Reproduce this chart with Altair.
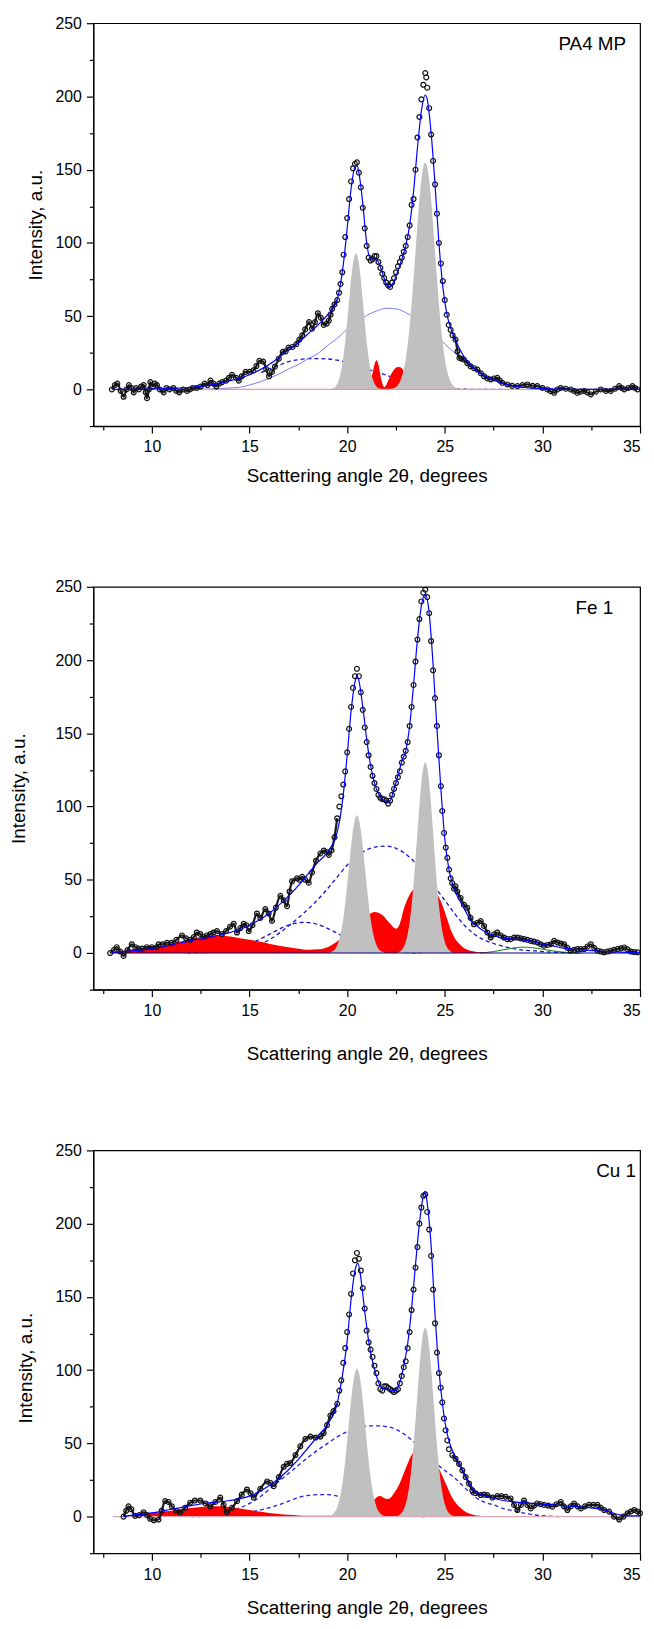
import altair as alt
import pandas as pd

FONT = "Liberation Sans"
W, H = 551, 406

# ---------------- Panel 1 : PA4 MP ----------------
p1_measured = [(7.95,0),(8.1,3),(8.23,4),(8.4,-1),(8.55,-5),(8.7,0),(8.82,3),(8.95,1),(9.07,-2),(9.2,1),(9.33,0),(9.45,2),(9.58,3),(9.68,-2),(9.75,-6),(9.85,0),(9.92,5),(10.05,2),(10.15,4),(10.26,3),(10.4,0),(10.6,-2),(10.75,1),(10.9,0),(11.1,1),(11.25,-1),(11.4,-2),(11.6,0),(11.8,-1),(11.95,0),(12.1,1),(12.3,1),(12.5,2),(12.7,4),(12.85,3),(13.0,6),(13.15,4),(13.3,2),(13.45,4),(13.6,5),(13.8,6),(13.95,8),(14.1,10),(14.3,8),(14.45,6),(14.6,9),(14.8,12),(15.0,12),(15.2,13),(15.35,16),(15.5,19.5),(15.7,19),(15.85,14),(16.0,9),(16.15,12),(16.3,15.5),(16.5,21),(16.7,25.7),(16.85,26),(17.0,28.6),(17.2,29),(17.4,31),(17.55,34),(17.7,37),(17.85,41),(18.05,46),(18.2,41.6),(18.35,46),(18.5,52),(18.65,49),(18.8,44),(18.95,45),(19.06,47),(19.15,51),(19.23,55),(19.35,58),(19.49,61),(19.58,66),(19.66,72),(19.75,80),(19.82,92),(19.9,104),(20.0,117),(20.1,130),(20.2,142),(20.3,151),(20.4,154),(20.5,155),(20.6,148),(20.7,138),(20.8,124),(20.9,110),(21.0,98),(21.1,90),(21.2,88),(21.3,89),(21.4,91),(21.5,91),(21.6,87),(21.7,83),(21.8,79),(21.9,76),(22.0,73),(22.1,71),(22.2,70),(22.3,73),(22.4,76),(22.5,80),(22.6,84),(22.7,87),(22.8,90),(22.9,94),(23.0,98),(23.1,104),(23.2,112),(23.3,126),(23.4,130),(23.5,150),(23.6,172),(23.7,186),(23.8,198),(23.9,208),(24.0,216),(24.05,213),(24.1,206),(24.2,192),(24.3,174),(24.4,156),(24.5,140),(24.6,120),(24.7,100),(24.8,86),(24.9,74),(25.0,61),(25.1,51),(25.2,44),(25.3,40.7),(25.4,37),(25.55,34),(25.65,26),(25.75,21.5),(25.85,21),(25.98,20.4),(26.15,18),(26.32,15.8),(26.5,14.5),(26.67,13.6),(26.85,11),(27.01,9),(27.18,7.5),(27.35,6.8),(27.52,7.5),(27.69,7.9),(27.82,6),(27.95,4.5),(28.2,3.4),(28.45,2.5),(28.72,2.3),(28.98,3),(29.23,3.4),(29.5,2.5),(29.74,2.3),(30.0,1),(30.25,0),(30.42,-1.2),(30.6,-2.3),(30.77,0),(30.94,1),(31.2,0.5),(31.45,0),(31.62,-1),(31.79,-2.3),(31.96,-1.5),(32.14,-1),(32.3,-2),(32.48,-3.4),(32.74,-1.5),(32.99,0),(33.25,-1),(33.5,-1),(33.72,0.5),(33.93,2.3),(34.06,1),(34.19,0),(34.4,1),(34.61,2.3),(34.74,1),(34.87,0)]
p1_fit = [(8,0),(9,0),(10,0.3),(11,0.8),(12,1.5),(13,3),(14,6),(15,10),(16,17),(17,27),(17.5,32),(18,38),(18.5,44),(19,51),(19.5,62),(19.8,85),(20.0,110),(20.2,137),(20.4,152),(20.5,153),(20.6,148),(20.8,127),(21.0,100),(21.2,89),(21.4,89),(21.6,87),(21.8,80),(22.0,72),(22.2,70),(22.4,74),(22.6,81),(22.8,89),(23.0,98),(23.2,112),(23.4,135),(23.6,165),(23.8,190),(24.0,201),(24.1,198),(24.3,175),(24.5,140),(24.7,100),(24.9,70),(25.1,52),(25.3,42),(25.6,32),(26.0,22),(26.5,14.5),(27.0,9.5),(27.5,6.5),(28,4),(29,1.5),(30,0.5),(31,0.2),(32,0),(35,0)]
p1_gray_a = [(19.05,0.1),(19.15,0.3),(19.25,0.6),(19.35,1.4),(19.45,2.9),(19.55,5.6),(19.65,10.1),(19.75,17.1),(19.85,26.7),(19.95,39.1),(20.05,53.4),(20.15,68.1),(20.25,81),(20.35,89.8),(20.45,93),(20.55,89.8),(20.65,81),(20.75,68.1),(20.85,53.4),(20.95,39.1),(21.05,26.7),(21.15,17.1),(21.25,10.1),(21.35,5.6),(21.45,2.9),(21.55,1.4),(21.65,0.6),(21.75,0.3),(21.85,0.1)]
p1_gray_b = [(22.2,0.2),(22.4,0.9),(22.5,1.7),(22.6,3.1),(22.7,5.3),(22.8,8.7),(22.9,13.8),(23.0,21),(23.1,30.7),(23.2,43.1),(23.3,58.2),(23.4,75.5),(23.5,94),(23.6,112.5),(23.7,129.5),(23.8,143.1),(23.9,151.9),(24.0,155),(24.1,151.9),(24.2,143.1),(24.3,129.5),(24.4,112.5),(24.5,94),(24.6,75.5),(24.7,58.2),(24.8,43.1),(24.9,30.7),(25.0,21),(25.1,13.8),(25.2,8.7),(25.3,5.3),(25.4,3.1),(25.5,1.7),(25.6,0.9),(25.8,0.2)]
p1_red = [(20.9,0),(21.0,0.5),(21.1,2),(21.2,6),(21.3,11),(21.4,17),(21.5,20),(21.6,17),(21.7,10),(21.8,4),(21.9,1.5),(22.0,3),(22.1,6),(22.2,9),(22.3,11.5),(22.4,13.5),(22.5,14.8),(22.6,15.3),(22.7,15.2),(22.8,14.5),(22.86,13.5),(22.87,0)]
p1_thin = [(12.5,0),(13,0.3),(13.5,0.6),(14,1),(14.5,1.5),(15,3),(15.5,5),(16,7.5),(16.5,10.5),(17,14),(17.5,17),(18,21),(18.5,24.5),(19,30),(19.5,35),(20,41),(20.5,46),(21,50.5),(21.5,53.5),(22,55.4),(22.5,55),(23,52.5),(23.5,48.5),(24,43.5),(24.5,38),(25,31),(25.5,25),(26,19),(26.5,14),(27,10),(27.5,6.5),(28,4),(29,1.5),(30,0.5),(31,0)]
p1_dashed = [(15.6,11.5),(16,14),(16.5,16.5),(17,19),(17.5,20.3),(18,21),(18.5,21),(19,20.8),(19.5,20),(20,18.5),(20.5,16.5),(21,14),(21.5,12),(22,9.8),(22.5,7.5),(23,5.5),(23.5,3.5),(24,2.2),(24.5,1.3),(25,0.7),(26,0.2),(27,0),(28,0)]

# ---------------- Panel 2 : Fe 1 ----------------
p2_measured = [(7.86,0),(8.05,2),(8.2,4),(8.38,1),(8.55,-2),(8.75,2),(8.97,6),(9.15,4),(9.31,3),(9.5,3),(9.74,4),(10.0,4),(10.25,4),(10.34,6),(10.55,6),(10.77,7),(11.0,7),(11.25,9),(11.54,12),(11.75,10),(11.96,9),(12.15,11),(12.3,14),(12.48,13),(12.65,11),(12.82,12),(12.99,13),(13.15,14),(13.33,15),(13.59,13),(13.8,15),(14.0,18),(14.19,20),(14.36,14),(14.53,17),(14.7,20),(14.83,19),(14.96,15),(15.15,19),(15.38,27),(15.55,24),(15.81,30),(15.98,27),(16.15,22),(16.35,31),(16.58,39),(16.75,36),(16.92,32),(17.05,42),(17.18,49),(17.43,51),(17.56,50),(17.69,52),(17.86,50),(18.03,48),(18.2,55),(18.4,63),(18.63,68),(18.8,70),(18.93,69),(19.06,67),(19.2,70),(19.35,79),(19.49,92),(19.6,100),(19.7,107),(19.8,115),(19.9,124),(20.0,137),(20.1,153),(20.2,168),(20.3,181),(20.4,189),(20.5,194),(20.6,189),(20.7,178),(20.8,166),(20.9,154),(21.0,144),(21.1,135),(21.2,127),(21.3,121),(21.4,116),(21.5,112),(21.6,108),(21.7,106),(21.8,105),(21.9,105),(22.0,104),(22.1,102),(22.2,104),(22.3,108),(22.4,112),(22.5,116),(22.6,120),(22.7,124),(22.8,130),(22.9,134),(23.0,138),(23.1,144),(23.2,155),(23.3,168),(23.4,183),(23.5,199),(23.6,214),(23.7,228),(23.8,240),(23.9,246),(24.0,248),(24.1,243),(24.2,232),(24.3,213),(24.4,193),(24.5,174),(24.6,155),(24.7,135),(24.8,114),(24.87,97),(24.96,82),(25.05,72),(25.13,65),(25.22,57),(25.3,51),(25.38,47.7),(25.47,44),(25.55,45.5),(25.64,42),(25.81,37.6),(25.98,33),(26.15,30.9),(26.32,24),(26.49,19.6),(26.67,20.7),(26.84,21.8),(27.01,18.5),(27.18,14),(27.35,10.6),(27.52,12.8),(27.69,14),(27.86,12),(28.03,10.6),(28.2,9.5),(28.37,9.5),(28.55,10.5),(28.72,10.6),(28.89,10),(29.06,9.5),(29.23,9),(29.4,8.3),(29.57,7.8),(29.74,7.2),(29.91,6),(30.08,5),(30.26,5.5),(30.43,6),(30.6,8.3),(30.77,7.2),(30.94,6.5),(31.11,6),(31.28,3.5),(31.45,1.6),(31.62,2.2),(31.79,2.7),(31.96,2.7),(32.14,2.7),(32.31,4.5),(32.48,6),(32.65,3.5),(32.82,1.6),(32.99,1),(33.16,0.5),(33.33,1),(33.5,1.6),(33.67,2.2),(33.85,2.7),(34.02,3.2),(34.19,3.8),(34.36,2.5),(34.53,1),(34.7,0.7),(34.87,0.5)]
p2_fit = [(7.9,0.5),(9,1.5),(10,3),(11,5.5),(12,8.5),(13,11),(14,14),(15,19),(16,27),(17,39),(17.5,46),(18,54),(18.5,62),(19,69),(19.5,83),(19.8,108),(20.0,135),(20.2,165),(20.4,185),(20.5,189),(20.6,186),(20.8,168),(21.0,146),(21.2,128),(21.4,116),(21.6,109),(21.8,105),(22.0,103),(22.2,104),(22.4,112),(22.6,121),(22.8,131),(23.0,138),(23.2,155),(23.4,183),(23.6,214),(23.8,237),(24.0,245),(24.2,232),(24.4,197),(24.6,153),(24.8,112),(25.0,78),(25.2,58),(25.4,47),(25.6,40),(25.8,35),(26.0,30),(26.3,23),(26.6,19),(27.0,15),(27.5,12),(28,10),(28.5,9.5),(29,9),(29.5,8),(30,6),(30.5,5),(31,3.5),(32,2.2),(33,1.2),(34,0.6),(35,0.2)]
p2_gray_a = [(19.1,0.4),(19.2,0.8),(19.3,1.6),(19.4,3.0),(19.5,5.5),(19.6,9.5),(19.7,15.3),(19.8,23.4),(19.9,33.8),(20.0,46.2),(20.1,59.7),(20.2,72.9),(20.3,83.9),(20.4,91.4),(20.5,94),(20.6,91.4),(20.7,83.9),(20.8,72.9),(20.9,59.7),(21.0,46.2),(21.1,33.8),(21.2,23.4),(21.3,15.3),(21.4,9.5),(21.5,5.5),(21.6,3.0),(21.7,1.6),(21.8,0.8),(21.9,0.4)]
p2_gray_b = [(22.6,0.5),(22.7,1.1),(22.8,2.2),(22.9,4.2),(23.0,7.6),(23.1,13.1),(23.2,21.2),(23.3,32.4),(23.4,46.9),(23.5,64),(23.6,82.6),(23.7,100.7),(23.8,116.1),(23.9,126.4),(24.0,130),(24.1,126.4),(24.2,116.1),(24.3,100.7),(24.4,82.6),(24.5,64),(24.6,46.9),(24.7,32.4),(24.8,21.2),(24.9,13.1),(25.0,7.6),(25.1,4.2),(25.2,2.2),(25.3,1.1),(25.4,0.5)]
p2_red = [(7.9,0),(8.5,1.5),(9,2.5),(9.5,3.5),(10,4),(10.5,5),(11,6.5),(11.5,8),(12,9.5),(12.5,11),(13,11.8),(13.5,12),(14,11.2),(14.5,10),(15,9),(15.5,7.8),(16,6.3),(16.5,5),(17,4),(17.5,3),(18,2.2),(18.5,2.5),(19,4),(19.5,8),(20,13),(20.5,19),(21,25),(21.4,28),(21.8,26),(22.2,20),(22.5,16.5),(22.7,20),(22.9,30),(23.1,37),(23.3,42),(23.6,45),(24.0,46),(24.4,43),(24.7,38),(24.9,32),(25.1,24),(25.3,16),(25.5,10.5),(25.8,5.5),(26.1,2.5),(26.5,1),(27,0.3),(27.5,0)]
p2_dashed_a = [(11.8,0.1),(12.8,0.4),(13.3,0.9),(13.8,1.8),(14.3,3.2),(14.8,5.2),(15.3,8),(15.8,11.3),(16.3,14.8),(16.8,18),(17.3,20.2),(17.8,21),(18.3,20.2),(18.8,18),(19.3,14.8),(19.8,11.3),(20.3,8),(20.8,5.2),(21.3,3.2),(21.8,1.8),(22.3,0.9),(22.8,0.4),(23.8,0.1)]
p2_dashed_b = [(13,0.8),(14,1.5),(15,4),(16,9),(17,18.5),(17.5,24),(18,30),(18.5,36.5),(19,44),(19.5,52),(20,60),(20.5,66),(21,70.5),(21.5,72.5),(22,73),(22.5,71.5),(23,67.5),(23.5,61.5),(24,54),(24.5,45),(25,36),(25.5,27),(26,19),(26.5,13),(27,9),(27.5,6.5),(28,4.5),(28.5,3),(29,2),(29.5,1.5),(30,1),(31,0.3),(32,0)]
p2_green = [(26.8,0),(27.5,1),(28,2.2),(28.5,3.4),(29,4),(29.5,3.6),(30,2.6),(30.5,1.5),(31,0.7),(31.5,0.2),(32,0)]

# ---------------- Panel 3 : Cu 1 ----------------
p3_measured = [(8.55,0),(8.68,4),(8.8,7),(8.95,5),(9.14,0.5),(9.35,1),(9.57,3),(9.75,1),(9.91,-1.5),(10.1,-2.5),(10.34,-2),(10.5,4),(10.68,10.6),(10.85,10),(11.02,7),(11.25,4),(11.45,3),(11.7,6),(11.96,9.5),(12.2,11),(12.48,11),(12.75,9),(12.99,7),(13.25,10),(13.5,13),(13.67,8),(13.84,3),(14.1,6),(14.36,10.6),(14.6,15),(14.87,18.5),(15.05,16),(15.21,13),(15.55,19),(15.9,24),(16.07,23),(16.24,20.8),(16.5,27),(16.75,34),(16.92,36),(17.09,36.6),(17.35,42),(17.6,48),(17.86,53),(18.12,54.6),(18.38,54),(18.63,54.6),(18.8,57),(18.97,62.5),(19.14,69),(19.3,72),(19.49,77),(19.6,86),(19.7,93),(19.8,105),(19.9,115),(20.0,126),(20.1,138),(20.2,152),(20.3,166),(20.4,175),(20.5,180),(20.6,176),(20.7,168),(20.8,156),(20.9,142),(21.0,127),(21.1,119),(21.2,114),(21.3,109),(21.4,103),(21.5,98),(21.6,91),(21.7,87),(21.8,86),(21.9,89),(22.0,89),(22.1,88),(22.2,87),(22.3,86),(22.4,85),(22.5,86),(22.6,87),(22.7,91),(22.8,96),(22.9,102),(23.0,106),(23.1,115),(23.2,126),(23.3,141),(23.4,155),(23.5,170),(23.6,184),(23.7,200),(23.8,211),(23.9,219),(24.0,220),(24.1,208),(24.2,196),(24.3,178),(24.4,155),(24.5,132),(24.6,112),(24.7,98),(24.79,88),(24.87,78),(24.96,67),(25.04,59),(25.13,52),(25.21,46),(25.38,42),(25.55,39.5),(25.73,36),(25.9,31.6),(26.07,27),(26.24,22.6),(26.41,18),(26.58,16),(26.84,14.7),(27.01,15),(27.18,14.7),(27.44,13),(27.69,14),(27.9,14),(28.12,13.5),(28.37,12.4),(28.55,8),(28.72,4.5),(28.9,8),(29.06,11),(29.23,8),(29.4,5.6),(29.57,7.5),(29.74,9),(29.91,8.5),(30.08,8),(30.3,7.5),(30.51,6.8),(30.72,8.5),(30.94,10),(31.1,7),(31.28,4.5),(31.45,7),(31.62,9),(31.8,7),(31.97,5.6),(32.18,7),(32.39,8),(32.6,8),(32.82,8),(32.99,6),(33.16,4.5),(33.42,3.4),(33.67,0),(33.93,-2),(34.15,0),(34.36,2.3),(34.53,3.5),(34.7,4.5),(34.87,3.5),(35.0,2.3)]
p3_fit = [(8.55,0),(9,1),(10,2.5),(11,5),(12,7.5),(13,9.5),(14,11),(15,14),(16,21),(17,32),(17.5,39),(18,47),(18.5,55),(19,63),(19.5,78),(19.8,100),(20.0,120),(20.2,148),(20.4,168),(20.55,173),(20.7,163),(20.9,140),(21.1,120),(21.3,106),(21.5,96),(21.7,89),(21.9,87),(22.1,87),(22.3,86),(22.5,86),(22.7,92),(22.9,103),(23.1,118),(23.3,142),(23.5,172),(23.7,200),(23.9,219),(24.0,222),(24.1,214),(24.3,185),(24.5,138),(24.7,100),(24.9,75),(25.1,58),(25.3,48),(25.5,42),(25.7,37),(26.0,29),(26.3,22),(26.6,17),(27,14.5),(27.5,12.5),(28,11),(29,9.5),(30,8.5),(31,7.5),(32,6.5),(32.5,6),(33,5),(33.5,3),(34,1),(34.5,0.5),(35,0.5)]
p3_gray_a = [(19.0,0.2),(19.1,0.5),(19.2,1.0),(19.3,2.1),(19.4,3.8),(19.5,6.8),(19.6,11.3),(19.7,17.9),(19.8,26.8),(19.9,38.2),(20.0,51.4),(20.1,65.5),(20.2,79.2),(20.3,90.6),(20.4,98.3),(20.5,101),(20.6,98.3),(20.7,90.6),(20.8,79.2),(20.9,65.5),(21.0,51.4),(21.1,38.2),(21.2,26.8),(21.3,17.9),(21.4,11.3),(21.5,6.8),(21.6,3.8),(21.7,2.1),(21.8,1.0),(21.9,0.5),(22.0,0.2)]
p3_gray_b = [(22.5,0.3),(22.6,0.6),(22.7,1.3),(22.8,2.6),(22.9,4.9),(23.0,8.6),(23.1,14.4),(23.2,22.8),(23.3,34.3),(23.4,48.7),(23.5,65.6),(23.6,83.7),(23.7,101.1),(23.8,115.8),(23.9,125.6),(24.0,129),(24.1,125.6),(24.2,115.8),(24.3,101.1),(24.4,83.7),(24.5,65.6),(24.6,48.7),(24.7,34.3),(24.8,22.8),(24.9,14.4),(25.0,8.6),(25.1,4.9),(25.2,2.6),(25.3,1.3),(25.4,0.6),(25.5,0.3)]
p3_red = [(8.55,0),(9,1),(9.5,1.8),(10,2.5),(10.5,3.2),(11,4),(11.5,5),(12,5.8),(12.5,6.5),(13,7),(13.5,7),(14,6.5),(14.5,5.5),(15,4.5),(15.5,3.5),(16,2.5),(16.5,1.8),(17,1.2),(17.5,0.8),(18,0.5),(19,0.5),(20,0.8),(20.5,1.5),(21.0,5),(21.3,10),(21.5,13),(21.7,14),(21.9,12.5),(22.1,12),(22.4,16),(22.7,23),(23.0,33),(23.3,42),(23.6,47),(24.0,48),(24.4,42),(24.7,33),(24.9,27),(25.1,21),(25.3,15),(25.5,10.5),(25.8,6),(26.1,3),(26.4,1.5),(26.8,0.5),(27.2,0)]
p3_dashed_a = [(12,0),(13,0.3),(14,1),(15,3),(16,6),(16.5,8),(17,10.5),(17.5,13),(18,14.5),(18.5,15),(19,15),(19.5,14),(20,12),(20.5,9.5),(21,7),(21.5,4.5),(22,2.5),(22.5,1.2),(23,0.5),(24,0)]
p3_dashed_b = [(11.8,1),(12.5,1.8),(13,2.5),(13.5,3.3),(14,4),(14.5,6),(15,9),(15.5,13),(16,18.5),(16.5,24),(17,29.5),(17.5,35),(18,40.5),(18.5,45.5),(19,50),(19.5,54.5),(20,58),(20.5,60.5),(21,61.8),(21.5,62),(22,61.5),(22.5,59.5),(23,55.5),(23.5,50),(24,43.5),(24.5,37),(25,31.5),(25.5,26.5),(26,20),(26.5,14),(27,10),(27.5,8),(28,5.5),(28.5,4),(29,2.5),(29.5,1.3),(30,0.6),(30.5,0.2),(31,0)]

X_TICKS = [7.5, 10, 12.5, 15, 17.5, 20, 22.5, 25, 27.5, 30, 32.5, 35]
Y_TICKS = [-25, 0, 25, 50, 75, 100, 125, 150, 175, 200, 225, 250]


def frame(pairs):
    return pd.DataFrame({"x": [p[0] for p in pairs], "y": [p[1] for p in pairs]})


def make_panel(label, label_x, label_align, label_y, measured, fit, grays, reds,
               dashed, thin, greens, base_color, y_tp, x_tp, y_title_y=None):
    xs = alt.Scale(domain=[7, 35], nice=False, zero=False)
    ys = alt.Scale(domain=[-25, 250], nice=False, zero=False)
    ykw = dict(
        values=Y_TICKS, title="Intensity, a.u.", titlePadding=y_tp,
        labelExpr="datum.value % 50 === 0 ? datum.label : ''",
        tickSize={"condition": {"test": "datum.value % 50 === 0", "value": 7}, "value": 4},
        labelOverlap=False, labelPadding=5,
    )
    if y_title_y is not None:
        ykw["titleY"] = y_title_y
    yaxis = alt.Axis(**ykw)
    xaxis = alt.Axis(
        values=X_TICKS, title="Scattering angle 2θ, degrees", titlePadding=x_tp,
        labelExpr="datum.value % 5 === 0 ? datum.label : ''",
        tickSize={"condition": {"test": "datum.value % 5 === 0", "value": 7}, "value": 4},
        labelOverlap=False, labelFlush=True, labelPadding=6,
    )
    X = alt.X("x:Q", scale=xs, axis=xaxis)
    Y = alt.Y("y:Q", scale=ys, axis=yaxis)
    Ya = alt.Y("y:Q", scale=ys, axis=yaxis, stack=None)

    layers = []
    for pairs, color, dash, width in dashed:
        layers.append(alt.Chart(frame(pairs)).mark_line(
            color=color, strokeDash=dash, strokeWidth=width, interpolate="monotone"
        ).encode(x=X, y=Y))
    for pairs, color in thin:
        layers.append(alt.Chart(frame(pairs)).mark_line(
            color=color, strokeWidth=1, interpolate="monotone"
        ).encode(x=X, y=Y))
    for pairs in greens:
        layers.append(alt.Chart(frame(pairs)).mark_line(
            color="#108010", strokeWidth=1, interpolate="monotone"
        ).encode(x=X, y=Y))
    for pairs in reds:
        layers.append(alt.Chart(frame(pairs)).mark_area(
            color="#FF0000", interpolate="monotone"
        ).encode(x=X, y=Ya, y2=alt.datum(0)))
    for pairs in grays:
        layers.append(alt.Chart(frame(pairs)).mark_area(
            color="#C0C0C0", interpolate="monotone"
        ).encode(x=X, y=Ya, y2=alt.datum(0)))
    layers.append(alt.Chart(frame([(8, 0), (35, 0)])).mark_line(
        color=base_color, strokeWidth=1.2).encode(x=X, y=Y))
    # the dense measured points in the low, wiggly parts read as a continuous chain
    low_left = [p for p in measured if p[0] < 19.55]
    low_right = [p for p in measured if p[0] > 25.3]
    for seg in (low_left, low_right):
        layers.append(alt.Chart(frame(seg)).mark_line(
            color="#1a1a1a", strokeWidth=2.2, interpolate="monotone"
        ).encode(x=X, y=Y))
    layers.append(alt.Chart(frame(measured)).mark_point(
        shape="circle", filled=False, size=24, color="#111111", strokeWidth=1.2, opacity=1
    ).encode(x=X, y=Y))
    layers.append(alt.Chart(frame(fit)).mark_line(
        color="#0000FF", strokeWidth=1.2, interpolate="monotone"
    ).encode(x=X, y=Y))
    layers.append(alt.Chart(pd.DataFrame({"t": [label]})).mark_text(
        align=label_align, baseline="middle", font=FONT, fontSize=19, color="black"
    ).encode(x=alt.value(label_x), y=alt.value(label_y), text="t:N"))
    return alt.layer(*layers).properties(width=W, height=H)


panel1 = make_panel(
    "PA4 MP", W - 14, "right", 21, p1_measured, p1_fit, [p1_gray_a, p1_gray_b], [p1_red],
    [(p1_dashed, "#1515E0", [4, 3], 1.3)], [(p1_thin, "#7A7AFF")], [], "#E89A9A",
    10, 12)
panel2 = make_panel(
    "Fe 1", W - 46, "center", 21, p2_measured, p2_fit, [p2_gray_a, p2_gray_b], [p2_red],
    [(p2_dashed_a, "#1515D0", [4, 3], 1.3), (p2_dashed_b, "#1515D0", [4, 3], 1.3)],
    [], [p2_green], "#000080", 27, 26)
panel3 = make_panel(
    "Cu 1", W - 4, "right", 21, p3_measured, p3_fit, [p3_gray_a, p3_gray_b], [p3_red],
    [(p3_dashed_a, "#2020F0", [4, 3], 1.3), (p3_dashed_b, "#2020F0", [4, 3], 1.3)],
    [], [], "#D8AAB8", 20, 17, y_title_y=H / 2 + 16)

chart = alt.vconcat(panel1, panel2, panel3, spacing=162, bounds="flush").properties(
    padding={"left": 0, "top": 0, "right": 0, "bottom": 0}
).configure_view(
    stroke="black", strokeWidth=1.2
).configure_axis(
    grid=False, domainColor="black", domainWidth=1.2, tickColor="black", tickWidth=1.2,
    labelColor="black", titleColor="black", labelFont=FONT, titleFont=FONT,
    labelFontSize=16, titleFontSize=19, titleFontWeight="normal"
)

chart.save("out.html", embed_options={"renderer": "svg", "actions": False})
